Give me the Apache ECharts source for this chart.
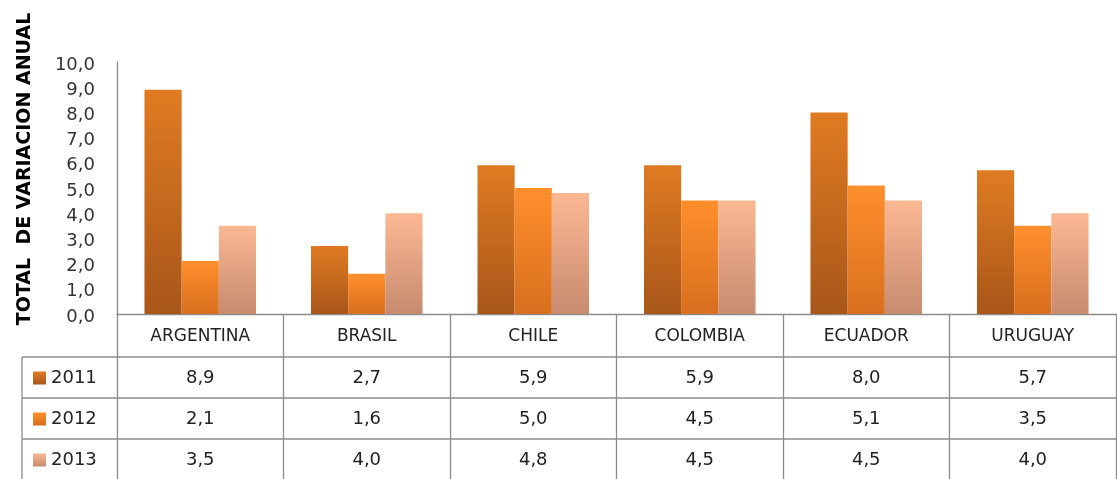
<!DOCTYPE html>
<html><head><meta charset="utf-8">
<script src="https://cdn.jsdelivr.net/npm/echarts@6/dist/echarts.min.js"></script>
<style>html,body{margin:0;padding:0;background:#fff}#c{width:1117px;height:479px}</style>
</head><body><div id="c"></div>
<script>
const categories = ['ARGENTINA','BRASIL','CHILE','COLOMBIA','ECUADOR','URUGUAY'];
const seriesNames = ['2011','2012','2013'];
const v2011 = [8.9, 2.7, 5.9, 5.9, 8.0, 5.7];
const v2012 = [2.1, 1.6, 5.0, 4.5, 5.1, 3.5];
const v2013 = [3.5, 4.0, 4.8, 4.5, 4.5, 4.0];
const yTitle = 'TOTAL  DE VARIACION ANUAL';

const values = [v2011, v2012, v2013];
const gradients = [
  ['#E07B22', '#A8561A'],
  ['#FF8F2C', '#D86F1F'],
  ['#FCB893', '#C78B70']
];
const fmt = v => v.toFixed(1).replace('.', ',');

const L = 117, R = 1116, TOP = 62, AXB = 314, H = 479;
const rowY = [357, 398, 439];
const FONT = 'DejaVu Sans';

const chart = echarts.init(document.getElementById('c'));
const grad = c => new echarts.graphic.LinearGradient(0, 0, 0, 1, [{offset: 0, color: c[0]}, {offset: 1, color: c[1]}]);

const lines = [];
rowY.forEach(y => lines.push({type: 'line', shape: {x1: 22, y1: y, x2: R, y2: y}, style: {stroke: '#8c8c8c', lineWidth: 1.3}}));
lines.push({type: 'line', shape: {x1: 22, y1: rowY[0], x2: 22, y2: H}, style: {stroke: '#8c8c8c', lineWidth: 1.3}});
lines.push({type: 'text', x: 25, y: 169, rotation: Math.PI / 2,
  style: {text: yTitle, font: 'bold 19px ' + FONT, fill: '#000', align: 'center', verticalAlign: 'middle'}});

chart.setOption({
  animation: false,
  grid: {left: L, right: 1117 - R, top: TOP, bottom: H - AXB, containLabel: false},
  legend: seriesNames.map((n, i) => ({
    data: [n], left: 33, top: rowY[i] + 12, padding: 0, itemWidth: 13, itemHeight: 13, itemGap: 6,
    icon: 'rect', textStyle: {fontSize: 18, color: '#222', fontFamily: FONT}
  })),
  xAxis: {
    type: 'category', data: categories, boundaryGap: true,
    axisLine: {show: true, lineStyle: {color: '#8c8c8c', width: 1.3}},
    axisTick: {show: true, length: H - AXB, lineStyle: {color: '#8c8c8c', width: 1.3}},
    axisLabel: {
      margin: 2, interval: 0,
      formatter: (c, idx) => '{h|' + c + '}\n' + values.map(a => '{v|' + fmt(a[idx]) + '}').join('\n'),
      rich: {
        h: {fontSize: 17, lineHeight: 42, color: '#222', fontFamily: FONT},
        v: {fontSize: 18, lineHeight: 41, color: '#222', fontFamily: FONT}
      }
    }
  },
  yAxis: {
    type: 'value', min: 0, max: 10, interval: 1,
    axisLine: {show: true, lineStyle: {color: '#8c8c8c', width: 1.3}},
    axisTick: {show: false}, splitLine: {show: false},
    axisLabel: {margin: 22, formatter: v => '{a|' + fmt(v) + '}',
      rich: {a: {fontSize: 18, color: '#333', fontFamily: FONT, padding: [6, 0, 0, 0]}}}
  },
  series: seriesNames.map((n, i) => ({
    name: n, type: 'bar', data: values[i], barGap: '0%', barCategoryGap: '33%',
    itemStyle: {color: grad(gradients[i])}
  })),
  graphic: lines
});
</script></body></html>
